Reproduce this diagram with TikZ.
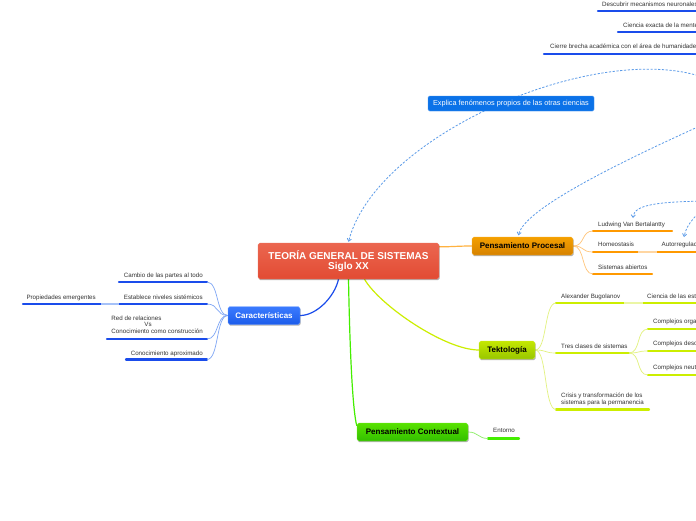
\documentclass[tikz,border=0pt]{standalone}
\usepackage{fontspec}
\setmainfont{Liberation Sans}
\usetikzlibrary{arrows.meta,shadows,backgrounds}
\definecolor{txt}{HTML}{333333}
\definecolor{rootred}{HTML}{E9553C}
\definecolor{rootredb}{HTML}{E24B33}
\definecolor{cblue}{HTML}{3B7BFF}
\definecolor{cblueb}{HTML}{1C5CEA}
\definecolor{ulblue}{HTML}{1A4CEB}
\definecolor{lblue}{HTML}{7FA6F5}
\definecolor{corange}{HTML}{F5A000}
\definecolor{corangeb}{HTML}{D68200}
\definecolor{ulorange}{HTML}{FF9900}
\definecolor{lorange}{HTML}{FFC57A}
\definecolor{cygreen}{HTML}{C4E800}
\definecolor{cygreenb}{HTML}{98C600}
\definecolor{ulygreen}{HTML}{CCEE00}
\definecolor{lygreen}{HTML}{E2F27E}
\definecolor{cgreen}{HTML}{58E200}
\definecolor{cgreenb}{HTML}{33BF00}
\definecolor{ulgreen}{HTML}{44EE00}
\definecolor{lgreen}{HTML}{8CEE66}
\definecolor{callblue}{HTML}{0B72E8}
\definecolor{dashblue}{HTML}{5B9BE8}
\begin{document}
\begin{tikzpicture}[x=1pt,y=-1pt,
  leaf/.style={font=\fontsize{6.2}{6.6}\selectfont, text=txt, inner sep=0pt},
  boxbase/.style={rounded corners=1.8pt, inner sep=0pt, minimum height=18pt,
    font=\bfseries\fontsize{8}{9}\selectfont,
    drop shadow={shadow xshift=0.6pt, shadow yshift=-1.2pt, opacity=0.3, fill=black}},
  rootbox/.style={boxbase, top color=rootred!90!white, bottom color=rootredb, draw=rootred!80!white,
    text=white, align=center, font=\bfseries\fontsize{10}{10.5}\selectfont},
  carbox/.style={boxbase, top color=cblue, bottom color=cblueb, draw=cblue!70!white, text=white},
  ppbox/.style={boxbase, top color=corange, bottom color=corangeb, draw=corange!80!white, text=black},
  tekbox/.style={boxbase, top color=cygreen, bottom color=cygreenb, draw=cygreen!80!white, text=black},
  pcbox/.style={boxbase, top color=cgreen, bottom color=cgreenb, draw=cgreen!80!white, text=black},
  callbox/.style={rounded corners=1.5pt, inner sep=0pt, minimum height=15pt, fill=callblue,
    draw=callblue!75!white, text=white, font=\fontsize{7.3}{8}\selectfont},
  ul/.style={line width=2.3pt, line cap=round},
  mainlink/.style={line width=1.2pt},
  leaflink/.style={line width=0.7pt},
  bridge/.style={line width=1.8pt},
  dashlink/.style={dashblue, line width=0.8pt, dash pattern=on 2.2pt off 1.6pt,
    -{Straight Barb[length=2.6pt,width=4.2pt]}}]
\useasboundingbox (0,0) rectangle (696,520);

% ---------- main nodes ----------
\node[rootbox, minimum width=181pt, minimum height=36pt] (root) at (348.5,261) {TEORÍA GENERAL DE SISTEMAS\\Siglo XX};
\node[carbox, minimum width=72pt] (car) at (264,315.5) {Características};
\node[ppbox, minimum width=101pt] (pp) at (522.5,246) {Pensamiento Procesal};
\node[tekbox, minimum width=56pt] (tek) at (507,350) {Tektología};
\node[pcbox, minimum width=111pt] (pc) at (412.5,432) {Pensamiento Contextual};
\node[callbox, minimum width=166pt] (call) at (511,103.5) {Explica fenómenos propios de las otras ciencias};

% ---------- Características leaves ----------
\coordinate (u1a) at (119,282); \coordinate (u1b) at (207,282);
\coordinate (u2a) at (119,304); \coordinate (u2b) at (207,304);
\coordinate (u0a) at (23,304);  \coordinate (u0b) at (101,304);
\coordinate (u3a) at (107,339); \coordinate (u3b) at (207,339);
\coordinate (u4a) at (126,359.5); \coordinate (u4b) at (207,359.5);
\node[leaf, anchor=base east] (l1) at (203,277) {Cambio de las partes al todo};
\node[leaf, anchor=base east] (l2) at (203,299) {Establece niveles sistémicos};
\node[leaf, anchor=base east] (l0) at (96,299) {Propiedades emergentes};
\node[leaf, anchor=base east, align=left] (l3) at (203,333.3) {Red de relaciones\\\hspace*{33pt}Vs\\Conocimiento como construcción};
\node[leaf, anchor=base east] (l4) at (203,355.5) {Conocimiento aproximado};

% ---------- Pensamiento Procesal leaves ----------
\coordinate (u5a) at (593,231); \coordinate (u5b) at (672,231);
\coordinate (u6a) at (593,252); \coordinate (u6b) at (638,252);
\coordinate (u7a) at (657,252); \coordinate (u7b) at (730,252);
\coordinate (u8a) at (593,274); \coordinate (u8b) at (652,274);
\node[leaf, anchor=base west] (l5) at (598,226.3) {Ludwing Van Bertalantty};
\node[leaf, anchor=base west] (l6) at (598,246.8) {Homeostasis};
\node[leaf, anchor=base west] (l7) at (661.5,246.8) {Autorregulación};
\node[leaf, anchor=base west] (l8) at (598,269) {Sistemas abiertos};

% ---------- Tektología leaves ----------
\coordinate (u9a) at (556,303); \coordinate (u9b) at (624,303);
\coordinate (u10a) at (643,303); \coordinate (u10b) at (730,303);
\coordinate (u11a) at (556,353); \coordinate (u11b) at (629,353);
\coordinate (u12a) at (648,329); \coordinate (u12b) at (730,329);
\coordinate (u13a) at (648,351); \coordinate (u13b) at (730,351);
\coordinate (u14a) at (648,375); \coordinate (u14b) at (730,375);
\coordinate (u15a) at (556,409.5); \coordinate (u15b) at (649,409.5);
\node[leaf, anchor=base west] (l9) at (561,298.3) {Alexander Bugolanov};
\node[leaf, anchor=base west] (l10) at (647,298.3) {Ciencia de las estructuras};
\node[leaf, anchor=base west] (l11) at (561,348.3) {Tres clases de sistemas};
\node[leaf, anchor=base west] (l12) at (653,323.5) {Complejos organizados};
\node[leaf, anchor=base west] (l13) at (653,345.5) {Complejos desorganizados};
\node[leaf, anchor=base west] (l14) at (653,369.7) {Complejos neutros};
\node[leaf, anchor=base west, align=left] (l15) at (561,404.3) {Crisis y transformación de los\\sistemas para la permanencia};

% ---------- Pensamiento Contextual leaf ----------
\coordinate (u16a) at (488,438.5); \coordinate (u16b) at (519,438.5);
\node[leaf, anchor=base west] (l16) at (493,432.8) {Entorno};

% ---------- top right leaves ----------
\coordinate (u17a) at (598,11); \coordinate (u17b) at (730,11);
\coordinate (u18a) at (618,32.3); \coordinate (u18b) at (730,32.3);
\coordinate (u19a) at (544,54); \coordinate (u19b) at (730,54);
\node[leaf, anchor=base west] (l17) at (602,6) {Descubrir mecanismos neuronales};
\node[leaf, anchor=base west] (l18) at (623,27) {Ciencia exacta de la mente};
\node[leaf, anchor=base west] (l19) at (550,48.8) {Cierre brecha académica con el área de humanidades};

% off-canvas anchors of the dashed links
\coordinate (d1) at (740,100);
\coordinate (d2) at (740,108);
\coordinate (d3) at (720,201);
\coordinate (d4) at (705,205);
\coordinate (t3) at (633,218);
\coordinate (t4) at (684,237);

\begin{pgfonlayer}{background}
\fill[white] (0,0) rectangle (696,520);
% underlines
\draw[ul, ulblue] (u1a) -- (u1b);
\draw[ul, ulblue] (u2a) -- (u2b);
\draw[ul, ulblue] (u0a) -- (u0b);
\draw[ul, ulblue] (u3a) -- (u3b);
\draw[ul, ulblue] (u4a) -- (u4b);
\draw[ul, ulorange] (u5a) -- (u5b);
\draw[ul, ulorange] (u6a) -- (u6b);
\draw[ul, ulorange] (u7a) -- (u7b);
\draw[ul, ulorange] (u8a) -- (u8b);
\draw[ul, ulygreen] (u9a) -- (u9b);
\draw[ul, ulygreen] (u10a) -- (u10b);
\draw[ul, ulygreen] (u11a) -- (u11b);
\draw[ul, ulygreen] (u12a) -- (u12b);
\draw[ul, ulygreen] (u13a) -- (u13b);
\draw[ul, ulygreen] (u14a) -- (u14b);
\draw[ul, ulygreen] (u15a) -- (u15b);
\draw[ul, ulgreen] (u16a) -- (u16b);
\draw[ul, ulblue] (u17a) -- (u17b);
\draw[ul, ulblue] (u18a) -- (u18b);
\draw[ul, ulblue] (u19a) -- (u19b);

% main links
\draw[mainlink, ulblue] ([xshift=-10pt]root.south) .. controls +(-4,18) and +(16,0) .. (car.east);
\draw[mainlink, ulorange!75] ([yshift=-4pt]root.north east) .. controls +(14,0) and +(-14,0) .. (pp.west);
\draw[mainlink, ulygreen] ([xshift=16pt]root.south) .. controls +(15,26) and +(-34,0) .. (tek.west);
\draw[mainlink, ulgreen] (root.south) .. controls (350,360) and (353,412) .. ([yshift=-3pt]pc.north west);

% leaf links
\foreach \u in {u1b,u2b,u3b,u4b}
  \draw[leaflink, lblue] (car.west) .. controls +(-12,0) and +(12,0) .. (\u);
\draw[bridge, lblue!70!white] (u0b) -- (u2a);
\foreach \u in {u5a,u6a,u8a}
  \draw[leaflink, lorange] (pp.east) .. controls +(12,0) and +(-12,0) .. (\u);
\draw[bridge, lorange!70!white] (u6b) -- (u7a);
\foreach \u in {u9a,u11a,u15a}
  \draw[leaflink, lygreen] (tek.east) .. controls +(12,0) and +(-12,0) .. (\u);
\draw[bridge, lygreen!70!white] (u9b) -- (u10a);
\foreach \u in {u12a,u13a,u14a}
  \draw[leaflink, lygreen] (u11b) .. controls +(12,0) and +(-12,0) .. (\u);
\draw[leaflink, lgreen] (pc.east) .. controls +(10,0) and +(-10,0) .. (u16a);

% dashed relation links
\draw[dashlink] (d1) .. controls (660,15) and (380,120) .. ([yshift=1pt]root.north);
\draw[dashlink] (d2) .. controls (650,148) and (525,205) .. ([xshift=-4pt,yshift=1.5pt]pp.north);
\draw[dashlink] (d3) .. controls (655,201) and (634,205) .. (t3);
\draw[dashlink] (d4) .. controls (698,215) and (687,222) .. (t4);
\end{pgfonlayer}
\end{tikzpicture}
\end{document}
